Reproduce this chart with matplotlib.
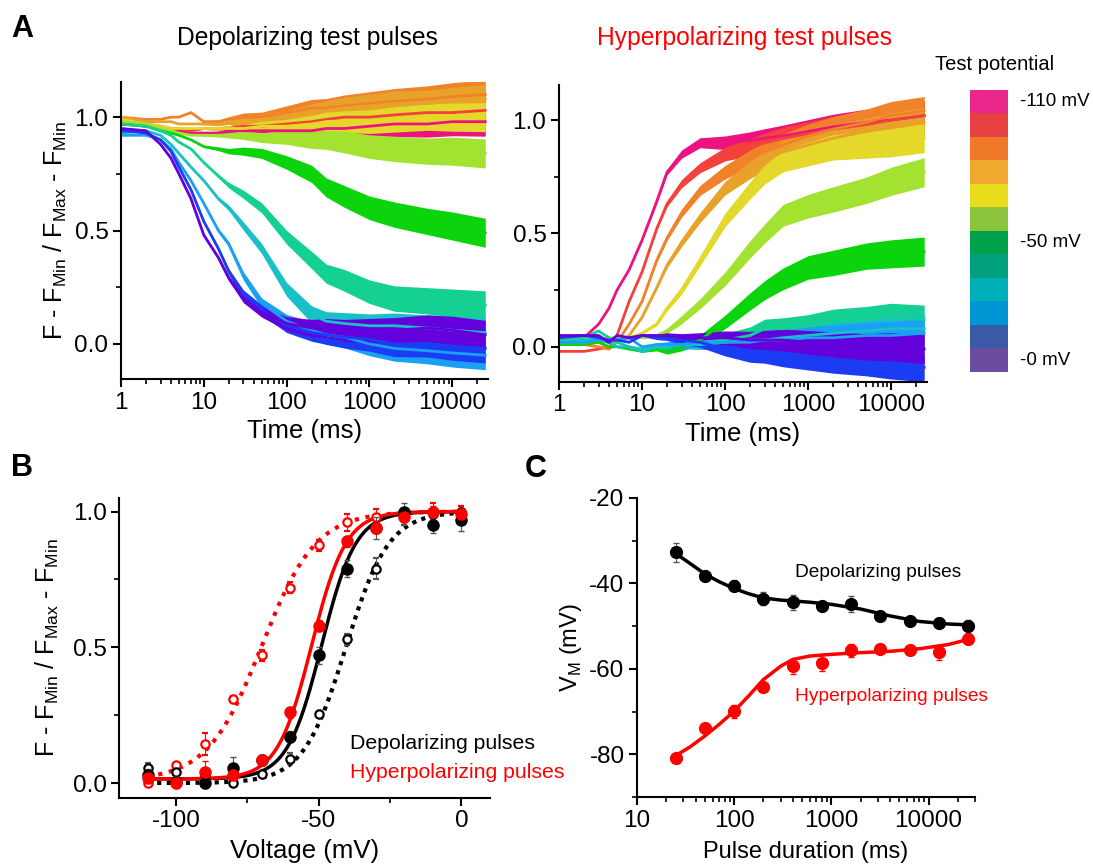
import numpy as np
import matplotlib
matplotlib.use("Agg")
import matplotlib.pyplot as plt
from matplotlib.colors import ListedColormap
from matplotlib.ticker import LogLocator, FixedLocator, FixedFormatter, MultipleLocator, NullFormatter

plt.rcParams["font.family"] = ["Liberation Sans", "DejaVu Sans"]
plt.rcParams["axes.linewidth"] = 1.5
plt.rcParams["axes.unicode_minus"] = False

# ---- data -------------------------------------------------------------
test_labels = ["-110 mV", "-50 mV", "-0 mV"]
test_potentials = [-110, -100, -90, -80, -70, -60, -50, -40, -30, -20, -10, 0]
trace_colors = ["#EC1380", "#F4413C", "#F0822A", "#E8A22A", "#E4D82A", "#A4E232",
                "#0CD40C", "#14D092", "#18C0C8", "#1AA0F4", "#1C3CF4", "#6400DC"]
cbar_colors = ["#E9268A", "#E84142", "#F07A2A", "#F0A82E", "#E8DC1C", "#8CC43E",
               "#00A14B", "#00A07C", "#00B0B8", "#0096D6", "#3A5AA8", "#6C4C9E"]

# time points (ms) at which the traces were read
t_ms = [1, 2, 3, 4, 5, 7, 10, 15, 20, 30, 50, 100, 200, 300, 500, 1000, 2000, 5000, 10000, 25000]
# noise band half-width of the traces at those times
band = [0, 0, 0, 0, 0, 0, 0.004, 0.008, 0.012, 0.018, 0.022, 0.03, 0.038, 0.042,
        0.048, 0.052, 0.056, 0.058, 0.062, 0.064]

# depolarizing test pulses, one row per test potential (-110 ... 0 mV)
dep_traces = [
    [0.97, 0.96, 0.95, 0.95, 0.94, 0.93, 0.93, 0.93, 0.94, 0.94, 0.94, 0.94, 0.94, 0.95, 0.95, 0.96, 0.97, 0.97, 0.98, 0.98],
    [0.97, 0.97, 0.96, 0.95, 0.95, 0.94, 0.95, 0.95, 0.95, 0.96, 0.96, 0.97, 0.98, 0.99, 1.00, 1.00, 1.01, 1.02, 1.02, 1.03],
    [1.00, 0.99, 0.99, 1.00, 1.00, 1.02, 0.98, 0.98, 0.99, 1.00, 1.00, 1.02, 1.04, 1.04, 1.05, 1.06, 1.07, 1.08, 1.09, 1.10],
    [1.00, 0.98, 0.98, 0.98, 0.97, 0.97, 0.97, 0.97, 0.98, 0.98, 0.99, 1.00, 1.02, 1.03, 1.04, 1.05, 1.06, 1.06, 1.07, 1.08],
    [0.99, 0.97, 0.96, 0.95, 0.95, 0.95, 0.95, 0.95, 0.95, 0.95, 0.96, 0.96, 0.97, 0.98, 0.98, 0.98, 0.99, 1.00, 1.00, 1.00],
    [0.98, 0.97, 0.95, 0.94, 0.93, 0.92, 0.92, 0.92, 0.92, 0.92, 0.91, 0.91, 0.90, 0.90, 0.89, 0.87, 0.86, 0.85, 0.85, 0.84],
    [0.97, 0.96, 0.94, 0.93, 0.92, 0.90, 0.87, 0.86, 0.85, 0.85, 0.84, 0.80, 0.75, 0.69, 0.65, 0.60, 0.57, 0.54, 0.52, 0.49],
    [0.97, 0.96, 0.94, 0.92, 0.89, 0.86, 0.80, 0.74, 0.70, 0.66, 0.60, 0.47, 0.37, 0.31, 0.28, 0.23, 0.20, 0.19, 0.18, 0.17],
    [0.93, 0.94, 0.92, 0.88, 0.84, 0.78, 0.72, 0.64, 0.60, 0.52, 0.42, 0.24, 0.13, 0.10, 0.09, 0.08, 0.08, 0.07, 0.06, 0.05],
    [0.92, 0.92, 0.90, 0.86, 0.80, 0.72, 0.62, 0.50, 0.44, 0.30, 0.18, 0.10, 0.06, 0.04, 0.03, 0.00, -0.02, -0.03, -0.04, -0.05],
    [0.94, 0.93, 0.90, 0.85, 0.78, 0.68, 0.54, 0.42, 0.32, 0.22, 0.15, 0.08, 0.05, 0.04, 0.03, 0.02, 0.00, 0.00, -0.01, -0.02],
    [0.95, 0.94, 0.88, 0.82, 0.75, 0.64, 0.48, 0.38, 0.29, 0.20, 0.14, 0.09, 0.07, 0.07, 0.06, 0.06, 0.06, 0.07, 0.06, 0.04],
]

# hyperpolarizing test pulses
hyp_traces = [
    [0.04, 0.04, 0.10, 0.17, 0.25, 0.34, 0.47, 0.64, 0.77, 0.85, 0.90, 0.90, 0.91, 0.92, 0.93, 0.95, 0.97, 0.99, 1.00, 1.02],
    [-0.02, -0.02, -0.01, 0.00, 0.05, 0.20, 0.33, 0.52, 0.63, 0.72, 0.79, 0.85, 0.88, 0.90, 0.92, 0.94, 0.96, 0.98, 1.00, 1.02],
    [0.02, 0.01, 0.00, -0.01, 0.02, 0.10, 0.20, 0.38, 0.48, 0.59, 0.69, 0.77, 0.83, 0.86, 0.89, 0.93, 0.96, 0.99, 1.02, 1.04],
    [0.02, 0.02, 0.02, 0.00, 0.02, 0.05, 0.13, 0.26, 0.36, 0.46, 0.57, 0.70, 0.78, 0.82, 0.86, 0.89, 0.92, 0.95, 0.97, 0.99],
    [0.03, 0.02, 0.02, 0.02, 0.03, 0.04, 0.06, 0.10, 0.17, 0.25, 0.38, 0.56, 0.69, 0.76, 0.82, 0.85, 0.88, 0.89, 0.90, 0.92],
    [0.02, 0.02, 0.03, 0.04, 0.04, 0.04, 0.04, 0.05, 0.07, 0.12, 0.19, 0.30, 0.43, 0.50, 0.58, 0.62, 0.65, 0.69, 0.73, 0.77],
    [0.01, 0.01, 0.02, 0.00, 0.00, -0.01, -0.02, -0.01, -0.02, 0.00, 0.03, 0.11, 0.20, 0.25, 0.30, 0.35, 0.37, 0.40, 0.41, 0.42],
    [0.03, 0.04, 0.07, 0.04, 0.02, 0.00, -0.01, 0.00, 0.00, 0.01, 0.02, 0.03, 0.05, 0.08, 0.08, 0.09, 0.11, 0.12, 0.13, 0.12],
    [0.02, 0.03, 0.04, 0.02, 0.00, 0.00, -0.02, 0.00, 0.00, 0.01, 0.01, 0.02, 0.03, 0.03, 0.04, 0.05, 0.06, 0.07, 0.08, 0.08],
    [0.02, 0.02, 0.03, 0.02, 0.03, 0.04, 0.00, 0.01, 0.01, 0.01, 0.02, 0.02, 0.02, 0.03, 0.03, 0.04, 0.04, 0.05, 0.05, 0.06],
    [0.04, 0.05, 0.04, 0.03, 0.03, 0.02, 0.05, 0.04, 0.04, 0.03, 0.02, -0.01, -0.03, -0.03, -0.04, -0.05, -0.06, -0.07, -0.08, -0.09],
    [0.05, 0.05, 0.05, 0.02, 0.05, 0.04, 0.05, 0.05, 0.05, 0.04, 0.04, 0.04, 0.03, 0.03, 0.03, 0.02, 0.01, 0.00, 0.00, -0.01],
]

# panel B: steady-state activation
volt = [-110, -100, -90, -80, -70, -60, -50, -40, -30, -20, -10, 0]
dep_fill = [0.03, 0.005, 0.0, 0.055, 0.085, 0.17, 0.47, 0.79, 0.94, 1.0, 0.95, 0.97]
dep_fill_err = [0.02, 0.02, 0.02, 0.04, 0.02, 0.02, 0.03, 0.03, 0.04, 0.03, 0.03, 0.04]
hyp_fill = [0.02, 0.0, 0.04, 0.03, 0.085, 0.26, 0.58, 0.89, 0.94, 0.98, 1.0, 0.99]
hyp_fill_err = [0.02, 0.02, 0.04, 0.02, 0.02, 0.02, 0.02, 0.02, 0.02, 0.02, 0.02, 0.02]
dep_open = [0.055, 0.04, 0.03, 0.0, 0.035, 0.09, 0.255, 0.53, 0.79, 0.98, 0.99, 1.0]
dep_open_err = [0.02, 0.02, 0.02, 0.01, 0.01, 0.02, 0.01, 0.02, 0.04, 0.03, 0.02, 0.01]
hyp_open = [0.0, 0.065, 0.145, 0.31, 0.47, 0.72, 0.875, 0.96, 0.98, 0.98, 1.0, 1.0]
hyp_open_err = [0.01, 0.01, 0.04, 0.01, 0.02, 0.02, 0.02, 0.03, 0.03, 0.02, 0.03, 0.02]
# Boltzmann fits: bottom, top, V50, slope
fit_dep_fill = [0.015, 1.0, -49.0, 6.0]
fit_hyp_fill = [0.015, 1.0, -52.5, 6.0]
fit_dep_open = [0.0, 1.0, -40.5, 7.5]
fit_hyp_open = [0.01, 1.0, -70.0, 9.5]

# panel C: V50 vs pulse duration
dur = [25, 50, 100, 200, 400, 800, 1600, 3200, 6400, 12800, 25600]
vm_dep = [-32.7, -38.3, -40.5, -43.6, -44.4, -45.2, -44.8, -47.7, -48.7, -49.2, -50.0]
vm_dep_err = [2.2, 1.2, 1.2, 1.5, 1.8, 1.2, 1.8, 0.5, 0.5, 1.2, 1.5]
vm_hyp = [-80.8, -73.8, -69.9, -64.3, -59.4, -58.6, -55.7, -55.3, -55.5, -56.1, -53.1]
vm_hyp_err = [0.5, 0.5, 1.5, 1.0, 1.8, 2.0, 1.5, 1.0, 0.8, 1.8, 0.5]
fit_dur = [25, 35, 50, 70, 100, 140, 200, 300, 400, 600, 1000, 2000, 4000, 8000, 16000, 25600]
fit_vm_dep = [-33.0, -35.3, -37.8, -39.6, -41.2, -42.4, -43.4, -43.9, -44.1, -44.4, -44.9,
              -46.0, -47.6, -48.9, -49.5, -49.7]
fit_vm_hyp = [-80.3, -78.3, -75.7, -73.0, -69.9, -66.4, -62.5, -59.4, -57.8, -57.0, -56.6,
              -56.2, -55.9, -55.3, -54.3, -53.1]

YLAB = r"F - F$_\mathregular{Min}$ / F$_\mathregular{Max}$ - F$_\mathregular{Min}$"


def style(ax):
    for s in ["top", "right"]:
        ax.spines[s].set_visible(False)
    ax.tick_params(which="major", direction="out", length=6, width=1.5, labelsize=17.5, pad=3)
    ax.tick_params(which="minor", direction="out", length=3.5, width=1.2)


def trace_panel(ax, traces):
    t = np.array(t_ms)
    w = np.array(band)
    for col, tr in zip(trace_colors, traces):
        y = np.array(tr)
        ax.fill_between(t, y - w, y + w, color=col, lw=0)
        ax.plot(t, y, color=col, lw=2)
    ax.set_xscale("log")
    ax.set_xlim(1, 27000)
    ax.set_ylim(-0.155, 1.155)
    ax.xaxis.set_major_locator(FixedLocator([1, 10, 100, 1000, 10000]))
    ax.xaxis.set_major_formatter(FixedFormatter(["1", "10", "100", "1000", "10000"]))
    ax.xaxis.set_minor_locator(LogLocator(base=10, subs=np.arange(2, 10)))
    ax.xaxis.set_minor_formatter(NullFormatter())
    ax.set_yticks([0, 0.5, 1.0])
    ax.set_yticklabels(["0.0", "0.5", "1.0"])
    ax.yaxis.set_minor_locator(MultipleLocator(0.25))
    ax.set_xlabel("Time (ms)", fontsize=18.5, labelpad=4)
    style(ax)


def boltz(v, p):
    return p[0] + (p[1] - p[0]) / (1 + np.exp((p[2] - v) / p[3]))


fig = plt.figure(figsize=(10.93, 8.65), dpi=100)

# ---- panel A ---------------------------------------------------------
axA1 = fig.add_axes([0.1107, 0.5618, 0.3358, 0.3434])
trace_panel(axA1, dep_traces)
axA1.set_ylabel(YLAB, fontsize=18, labelpad=4)

axA2 = fig.add_axes([0.5114, 0.5584, 0.3367, 0.3434])
trace_panel(axA2, hyp_traces)

fig.text(0.281, 0.956, "Depolarizing test pulses", fontsize=17.7, ha="center", va="center")
fig.text(0.681, 0.956, "Hyperpolarizing test pulses", fontsize=17.7, ha="center", va="center", color="#FF0000")
fig.text(0.010, 0.967, "A", fontsize=22, fontweight="bold", va="center")

# colour key
cax = fig.add_axes([0.8875, 0.570, 0.0339, 0.326])
cax.imshow(np.arange(12).reshape(12, 1), cmap=ListedColormap(cbar_colors), aspect="auto",
           extent=(0, 1, 12, 0))
cax.axis("off")
for idx, lab in zip([0, 6, 11], test_labels):
    cax.text(1.35, idx + 0.5, lab, fontsize=13.5, va="center", ha="left")
fig.text(0.910, 0.925, "Test potential", fontsize=14.5, ha="center", va="center")

# ---- panel B ---------------------------------------------------------
axB = fig.add_axes([0.1089, 0.0775, 0.3394, 0.3468])
vv = np.linspace(-110, 0, 300)
axB.plot(vv, boltz(vv, fit_hyp_open), color="#FF0000", ls=(0, (1, 1.6)), lw=3)
axB.plot(vv, boltz(vv, fit_dep_open), color="black", ls=(0, (1, 1.3)), lw=3)
axB.plot(vv, boltz(vv, fit_dep_fill), color="black", lw=2.5)
axB.plot(vv, boltz(vv, fit_hyp_fill), color="#FF0000", lw=2.5)
axB.errorbar(volt, hyp_open, yerr=hyp_open_err, fmt="o", ms=6, mfc="white", mec="#FF0000",
             mew=1.6, ecolor="#FF0000", elinewidth=0.8, capsize=2.5, zorder=4)
axB.errorbar(volt, dep_open, yerr=dep_open_err, fmt="o", ms=6, mfc="white", mec="black",
             mew=1.6, ecolor="#555555", elinewidth=0.8, capsize=2.5, zorder=4)
axB.errorbar(volt, dep_fill, yerr=dep_fill_err, fmt="o", ms=8, color="black",
             ecolor="#555555", elinewidth=0.8, capsize=2.5, zorder=5)
axB.errorbar(volt, hyp_fill, yerr=hyp_fill_err, fmt="o", ms=8, color="#FF0000",
             ecolor="#FF0000", elinewidth=0.8, capsize=2.5, zorder=5)
axB.set_xlim(-120, 10)
axB.set_ylim(-0.055, 1.05)
axB.set_xticks([-100, -50, 0])
axB.xaxis.set_minor_locator(MultipleLocator(25))
axB.set_yticks([0, 0.5, 1.0])
axB.set_yticklabels(["0.0", "0.5", "1.0"])
axB.yaxis.set_minor_locator(MultipleLocator(0.25))
axB.set_xlabel("Voltage (mV)", fontsize=18.5, labelpad=5)
axB.set_ylabel(YLAB, fontsize=18, labelpad=8)
style(axB)
fig.text(0.32, 0.141, "Depolarizing pulses", fontsize=15.3, va="center")
fig.text(0.32, 0.107, "Hyperpolarizing pulses", fontsize=15.3, va="center", color="#FF0000")
fig.text(0.010, 0.459, "B", fontsize=22, fontweight="bold", va="center")

# ---- panel C ---------------------------------------------------------
axC = fig.add_axes([0.5828, 0.0786, 0.3092, 0.3457])
axC.plot(fit_dur, fit_vm_dep, color="black", lw=2.5)
axC.plot(fit_dur, fit_vm_hyp, color="#FF0000", lw=2.5)
axC.errorbar(dur, vm_dep, yerr=vm_dep_err, fmt="o", ms=8.5, color="black",
             ecolor="#555555", elinewidth=0.8, capsize=2.5, zorder=5)
axC.errorbar(dur, vm_hyp, yerr=vm_hyp_err, fmt="o", ms=8.5, color="#FF0000",
             ecolor="#FF0000", elinewidth=0.8, capsize=2.5, zorder=5)
axC.set_xscale("log")
axC.set_xlim(10, 30000)
axC.set_ylim(-90, -20)
axC.xaxis.set_major_locator(FixedLocator([10, 100, 1000, 10000]))
axC.xaxis.set_major_formatter(FixedFormatter(["10", "100", "1000", "10000"]))
axC.xaxis.set_minor_locator(LogLocator(base=10, subs=np.arange(2, 10)))
axC.xaxis.set_minor_formatter(NullFormatter())
axC.set_yticks([-80, -60, -40, -20])
axC.yaxis.set_minor_locator(MultipleLocator(10))
axC.set_xlabel("Pulse duration (ms)", fontsize=17, labelpad=7)
axC.set_ylabel(r"V$_\mathregular{M}$ (mV)", fontsize=17, labelpad=4)
style(axC)
fig.text(0.727, 0.338, "Depolarizing pulses", fontsize=13.8, va="center")
fig.text(0.727, 0.195, "Hyperpolarizing pulses", fontsize=13.8, va="center", color="#FF0000")
fig.text(0.480, 0.458, "C", fontsize=22, fontweight="bold", va="center")

fig.savefig("out.png", dpi=100)
